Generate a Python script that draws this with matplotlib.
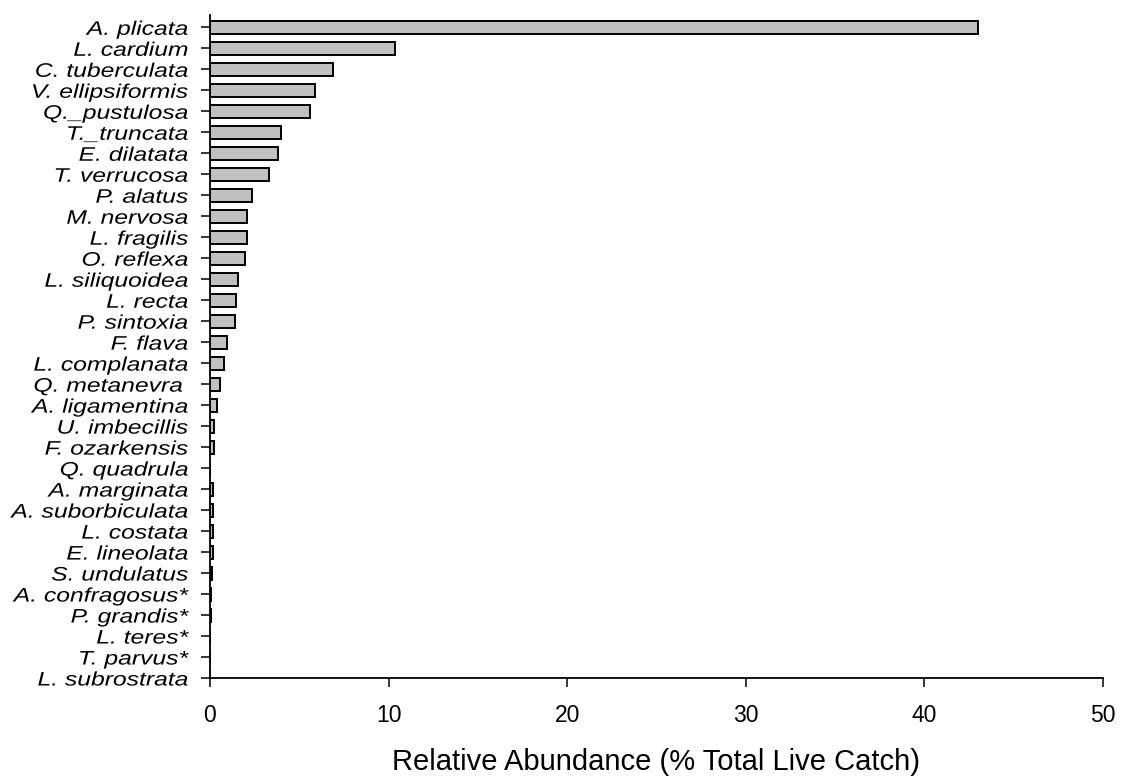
import matplotlib
matplotlib.use("Agg")
import matplotlib.pyplot as plt
from matplotlib.patheffects import AbstractPathEffect
from matplotlib.transforms import Affine2D

species = [
    "A. plicata", "L. cardium", "C. tuberculata", "V. ellipsiformis",
    "Q._pustulosa", "T._truncata", "E. dilatata", "T. verrucosa",
    "P. alatus", "M. nervosa", "L. fragilis", "O. reflexa",
    "L. siliquoidea", "L. recta", "P. sintoxia", "F. flava",
    "L. complanata", "Q. metanevra ", "A. ligamentina", "U. imbecillis",
    "F. ozarkensis", "Q. quadrula", "A. marginata", "A. suborbiculata",
    "L. costata", "E. lineolata", "S. undulatus", "A. confragosus*",
    "P. grandis*", "L. teres*", "T. parvus*", "L. subrostrata",
]
abundance = [
    43.0, 10.37, 6.89, 5.88,
    5.60, 3.97, 3.82, 3.31,
    2.35, 2.09, 2.07, 1.94,
    1.56, 1.47, 1.41, 0.97,
    0.78, 0.56, 0.37, 0.22,
    0.22, 0.0, 0.15, 0.15,
    0.15, 0.15, 0.10, 0.08,
    0.08, 0.0, 0.0, 0.0,
]
x_ticks = [0, 10, 20, 30, 40, 50]

plt.rcParams["font.family"] = ["Liberation Sans", "DejaVu Sans"]


class WideText(AbstractPathEffect):
    """Stretch glyphs horizontally, keeping their right end fixed."""

    def __init__(self, sx):
        super().__init__()
        self.sx = sx

    def draw_path(self, renderer, gc, tpath, affine, rgbFace=None):
        verts = tpath.vertices
        xr = verts[:, 0].max() if len(verts) else 0.0
        stretch = Affine2D().translate(-xr, 0).scale(self.sx, 1.0).translate(xr, 0)
        renderer.draw_path(gc, tpath, stretch + affine, rgbFace)


fig = plt.figure(figsize=(11.23, 7.80), dpi=100)
ax = fig.add_axes([210 / 1123, 1 - 678 / 780, (1103 - 210) / 1123, (678 - 15) / 780])

pos = list(range(len(species)))
ax.barh(pos, abundance, height=0.62, color="#c0c0c0", edgecolor="black",
        linewidth=1.4, zorder=2)

ax.set_xlim(0, 50)
ax.set_ylim(len(species) - 1, -0.586)
ax.set_xticks(x_ticks)
ax.set_xticklabels([str(t) for t in x_ticks], fontsize=16.5)
ax.set_yticks(pos)
ax.set_yticklabels(species, fontsize=14.1, fontstyle="italic")
for lab in ax.get_yticklabels():
    lab.set_path_effects([WideText(1.26)])

for side in ("top", "right"):
    ax.spines[side].set_visible(False)
for side in ("left", "bottom"):
    ax.spines[side].set_linewidth(1.3)
    ax.spines[side].set_zorder(3)

ax.tick_params(axis="both", direction="out", length=6.5, width=1.1, colors="black")
ax.tick_params(axis="x", pad=12)
ax.tick_params(axis="y", pad=9)

ax.set_xlabel("Relative Abundance (% Total Live Catch)", fontsize=21, labelpad=15)

fig.savefig("out.png", dpi=100)
